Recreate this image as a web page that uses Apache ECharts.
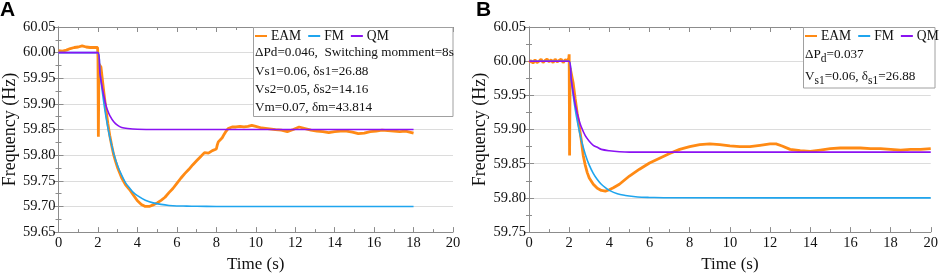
<!DOCTYPE html>
<html><head><meta charset="utf-8">
<script src="https://cdn.jsdelivr.net/npm/echarts@6/dist/echarts.min.js"></script>
<style>html,body{margin:0;padding:0;background:#fff}#c{width:941px;height:278px}</style>
</head><body><div id="c"></div>
<script>
// ---- data (time s, frequency Hz) ----
const seriesNames = ['EAM', 'FM', 'QM'];
const eamA = [[0,60.004],[0.1,60.006],[0.2,60.003],[0.3,60.006],[0.4,60.005],[0.5,60.007],[0.6,60.008],[0.7,60.007],[0.8,60.010],[0.9,60.009],[1.0,60.011],[1.1,60.012],[1.2,60.013],[1.3,60.012],[1.4,60.011],[1.5,60.012],[1.6,60.010],[1.7,60.011],[1.8,60.010],[1.9,60.012],[1.98,60.010],[2.0,59.99],[2.02,59.836],[2.05,59.978],[2.15,59.972],[2.2,59.955],[2.3,59.922],[2.4,59.89],[2.5,59.862],[2.6,59.838],[2.7,59.818],[2.8,59.80],[2.9,59.787],[3.0,59.775],[3.2,59.756],[3.4,59.742],[3.6,59.733],[3.8,59.722],[4.0,59.711],[4.2,59.704],[4.4,59.700],[4.5,59.701],[4.6,59.700],[4.8,59.703],[5.0,59.707],[5.2,59.712],[5.4,59.718],[5.6,59.727],[5.8,59.735],[6.0,59.745],[6.2,59.755],[6.4,59.764],[6.6,59.772],[6.8,59.781],[7.0,59.789],[7.2,59.797],[7.4,59.805],[7.5,59.806],[7.6,59.804],[7.8,59.809],[8.0,59.812],[8.05,59.82],[8.1,59.826],[8.2,59.826],[8.3,59.834],[8.4,59.841],[8.5,59.847],[8.6,59.852],[8.8,59.855],[9.0,59.855],[9.2,59.856],[9.4,59.855],[9.6,59.856],[9.8,59.858],[10.0,59.856],[10.3,59.853],[10.6,59.852],[11.0,59.850],[11.3,59.849],[11.6,59.846],[11.9,59.850],[12.2,59.855],[12.5,59.852],[12.8,59.849],[13.1,59.847],[13.4,59.846],[13.7,59.844],[14.0,59.846],[14.3,59.847],[14.6,59.847],[14.9,59.845],[15.2,59.842],[15.5,59.843],[15.8,59.846],[16.1,59.847],[16.4,59.849],[16.7,59.848],[17.0,59.847],[17.3,59.846],[17.6,59.847],[17.8,59.845],[18.0,59.843]];
const fmA = [[0,60.0],[2.0,60.0],[2.1,59.962],[2.2,59.930],[2.3,59.901],[2.4,59.876],[2.5,59.854],[2.6,59.835],[2.8,59.803],[3.0,59.779],[3.2,59.761],[3.4,59.746],[3.6,59.736],[3.8,59.727],[4.0,59.721],[4.4,59.712],[4.8,59.707],[5.2,59.704],[5.6,59.702],[6.0,59.701],[6.5,59.7007],[7.0,59.7003],[8.0,59.70],[18.0,59.70]];
const qmA = [[0,60.0],[2.0,60.0],[2.1,59.96],[2.2,59.935],[2.3,59.915],[2.4,59.898],[2.5,59.886],[2.6,59.877],[2.8,59.865],[3.0,59.858],[3.2,59.854],[3.5,59.852],[4.0,59.8505],[5.0,59.85],[18.0,59.85]];
const eamB = [[0,59.998],[0.1,60.001],[0.2,59.997],[0.3,60.002],[0.4,59.998],[0.5,60.000],[0.6,60.003],[0.7,59.998],[0.8,60.001],[0.9,60.003],[1.0,59.999],[1.1,60.002],[1.2,59.998],[1.3,60.003],[1.4,59.999],[1.5,60.001],[1.6,60.003],[1.7,59.998],[1.8,60.002],[1.9,60.001],[1.98,60.004],[2.0,60.010],[2.02,59.862],[2.05,59.99],[2.1,59.988],[2.2,59.968],[2.3,59.945],[2.4,59.924],[2.5,59.905],[2.6,59.885],[2.7,59.862],[2.8,59.848],[2.9,59.837],[3.0,59.829],[3.2,59.82],[3.4,59.814],[3.6,59.811],[3.8,59.81],[4.0,59.812],[4.2,59.815],[4.5,59.82],[5.0,59.832],[5.5,59.842],[6.0,59.851],[6.5,59.858],[7.0,59.865],[7.5,59.871],[8.0,59.875],[8.5,59.878],[9.0,59.879],[9.5,59.878],[10.0,59.876],[10.5,59.875],[11.0,59.875],[11.5,59.877],[12.0,59.879],[12.3,59.879],[12.6,59.876],[13.0,59.871],[13.5,59.869],[14.0,59.868],[14.5,59.870],[15.0,59.872],[15.5,59.873],[16.0,59.873],[16.5,59.873],[17.0,59.872],[17.5,59.872],[18.0,59.871],[18.5,59.870],[19.0,59.871],[19.5,59.871],[20.0,59.872]];
const fmB = [[0,60.0],[2.0,60.0],[2.1,59.973],[2.2,59.950],[2.3,59.930],[2.4,59.913],[2.5,59.898],[2.6,59.885],[2.8,59.864],[3.0,59.848],[3.2,59.836],[3.4,59.827],[3.6,59.820],[3.8,59.815],[4.0,59.811],[4.4,59.806],[4.8,59.8036],[5.2,59.802],[5.6,59.801],[6.0,59.8007],[7.0,59.8002],[20.0,59.80]];
const qmB = [[0,60.0],[2.0,60.0],[2.1,59.974],[2.2,59.954],[2.3,59.937],[2.4,59.924],[2.5,59.913],[2.6,59.904],[2.8,59.891],[3.0,59.883],[3.2,59.877],[3.4,59.874],[3.6,59.871],[4.0,59.869],[4.5,59.8676],[5.0,59.867],[20.0,59.867]];
const yRangeA = [59.65, 60.05];
const yRangeB = [59.75, 60.05];
const xRange = [0, 20];
const textA = ['ΔPd=0.046,  Switching momment=8s', 'Vs1=0.06, δs1=26.88', 'Vs2=0.05, δs2=14.16', 'Vm=0.07, δm=43.814'];
const textB = ['{m|ΔP}{s|d}{m|=0.037}', '{m|V}{s|s1}{m|=0.06, δ}{s|s1}{m|=26.88}'];
const colors = ['#FF8A14', '#1FA5EE', '#8A12F2'];

const serif = 'Liberation Serif, Times New Roman, serif';
const frame = '#8c8c8c';
const boxFont = 13.2;
const grids = [
  {left: 49, top: 27, width: 404, height: 211},
  {left: 529, top: 27, width: 406, height: 211}
];
const xAxes = [], yAxes = [];
[yRangeA, yRangeB].forEach((yr, i) => {
  const base = {
    type: 'value', gridIndex: i, min: xRange[0], max: xRange[1], interval: 2,
    axisLine: {show: true, lineStyle: {color: frame, width: 1}},
    axisTick: {show: true, inside: true, length: 5, lineStyle: {color: frame}},
    minorTick: {show: true, splitNumber: 2, length: 3, lineStyle: {color: frame}},
    splitLine: {show: false}
  };
  xAxes.push(Object.assign({}, base, {
    position: 'bottom',
    axisLabel: {show: true, color: '#111', fontFamily: serif, fontSize: 14.5, margin: 4},
    name: 'Time (s)', nameLocation: 'middle', nameGap: 21,
    nameTextStyle: {color: '#111', fontFamily: serif, fontSize: 17}
  }));
  xAxes.push(Object.assign({}, base, {position: 'top', axisLabel: {show: false}}));
  const ybase = {
    type: 'value', gridIndex: i, min: yr[0], max: yr[1], interval: 0.05,
    axisLine: {show: true, lineStyle: {color: frame, width: 1}},
    axisTick: {show: true, inside: true, length: 5, lineStyle: {color: frame}},
    minorTick: {show: true, splitNumber: 2, length: 3, lineStyle: {color: frame}}
  };
  yAxes.push(Object.assign({}, ybase, {
    position: 'left',
    splitLine: {show: true, lineStyle: {color: '#dcdcdc', width: 1}},
    axisLabel: {show: true, color: '#111', fontFamily: serif, fontSize: 14.5, margin: 3,
      formatter: v => v.toFixed(2)},
    name: 'Frequency (Hz)', nameLocation: 'middle', nameGap: 28,
    nameTextStyle: {color: '#111', fontFamily: serif, fontSize: 18}
  }));
  yAxes.push(Object.assign({}, ybase, {position: 'right', splitLine: {show: false}, axisLabel: {show: false}}));
});

const datasets = [[eamA, fmA, qmA], [eamB, fmB, qmB]];
const series = [];
datasets.forEach((set, i) => {
  set.forEach((d, k) => {
    series.push({
      type: 'line', name: seriesNames[k], data: d,
      xAxisIndex: i * 2, yAxisIndex: i * 2,
      showSymbol: false, symbol: 'none', animation: false,
      smooth: k === 0 ? false : 0.3,
      lineStyle: {color: colors[k], width: k === 0 ? 2.8 : 1.6},
      itemStyle: {color: colors[k]},
      z: 2 + k
    });
  });
});

const legendBase = {
  orient: 'horizontal', icon: 'rect', itemWidth: 12, itemHeight: 2, itemGap: 7, width: 220,
  textStyle: {fontFamily: serif, fontSize: 13.6, color: '#111', padding: [0, 0, 0, -1]},
  padding: 0, z: 10, data: seriesNames, selectedMode: false
};
const legends = [
  Object.assign({}, legendBase, {left: 255, top: 29}),
  Object.assign({}, legendBase, {left: 805, top: 29, itemGap: 7})
];

const txt = (x, y, s, extra) => ({
  type: 'text', x: x, y: y, z: 8,
  style: Object.assign({text: s, fontFamily: serif, fontSize: boxFont, fill: '#111', verticalAlign: 'middle'}, extra || {})
});
const richSub = {
  m: {fontFamily: serif, fontSize: boxFont, fill: '#111', lineHeight: 20, verticalAlign: 'middle'},
  s: {fontFamily: serif, fontSize: 11.5, fill: '#111', lineHeight: 20, verticalAlign: 'bottom'}
};
const graphic = [
  {type: 'rect', z: 6, shape: {x: 253.5, y: 27.5, width: 199.5, height: 89}, style: {fill: '#fff', stroke: '#a0a0a0', lineWidth: 1}},
  {type: 'rect', z: 6, shape: {x: 803.5, y: 27.5, width: 131.5, height: 60.5}, style: {fill: '#fff', stroke: '#a0a0a0', lineWidth: 1}},
  txt(255, 53, textA[0]), txt(255, 72, textA[1]), txt(255, 90, textA[2]), txt(255, 108, textA[3]),
  txt(805, 55, textB[0], {rich: richSub}),
  txt(805, 77, textB[1], {rich: richSub}),
  {type: 'text', x: 0, y: 0, z: 8, style: {text: 'A', fontFamily: 'Liberation Sans, Arial, sans-serif', fontWeight: 'bold', fontSize: 21, fill: '#000'}},
  {type: 'text', x: 476, y: 0, z: 8, style: {text: 'B', fontFamily: 'Liberation Sans, Arial, sans-serif', fontWeight: 'bold', fontSize: 21, fill: '#000'}}
];

const chart = echarts.init(document.getElementById('c'), null, {renderer: 'canvas'});
chart.setOption({
  animation: false,
  backgroundColor: '#fff',
  grid: grids,
  xAxis: xAxes,
  yAxis: yAxes,
  legend: legends,
  series: series,
  graphic: graphic
});
</script></body></html>
